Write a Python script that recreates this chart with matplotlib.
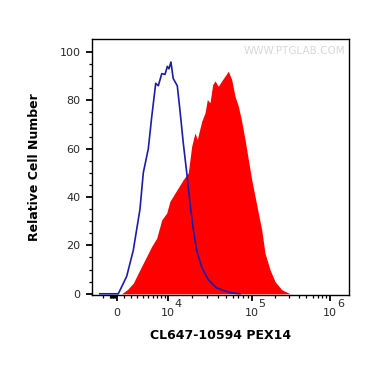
import numpy as np
import matplotlib
matplotlib.use('Agg')
from matplotlib import pyplot as plt

plt.rcParams['font.family'] = ['DejaVu Sans']

# Isotype control (blue outline): fluorescence intensity vs relative cell number
ctrl_x = [-2500, -1000, 181, 1371, 2360, 3450, 4033, 4995, 5697, 6607, 7247, 8152, 9085,
          9788, 10300, 10914, 11660, 13113, 14138, 15524, 17131, 18744, 20545, 22550,
          25884, 30970, 38880, 55720, 72950]
ctrl_y = [0, 0, 0, 7.2, 18, 35, 50, 60, 73, 87, 86, 91, 90.7,
          94, 93, 95.8, 89, 86, 76, 62.5, 50, 37.6, 26.5, 18,
          11, 5.8, 2.4, 0.5, 0]

# CL647-10594 PEX14 stained sample (red filled)
pex_x = [656, 1500, 2360, 3450, 4677, 5697, 6843, 8152, 9600, 10586, 12304, 13474, 15524,
         17872, 19652, 21534, 22944, 25884, 28333, 30171, 32447, 34916, 37187, 40613,
         44574, 48697, 53270, 58321, 63807, 69726, 76415, 83536, 91332, 100000, 110200,
         121460, 134200, 147900, 171300, 198400, 241800, 308600, 400000]
pex_y = [0, 1.8, 4.4, 10, 15.5, 19.6, 23, 30.6, 33.4, 38.2, 41.7, 43.8, 47.2,
         50, 61, 66.5, 63.8, 71.3, 74.8, 80.3, 79, 86.5, 88, 85.8,
         88, 90, 92, 88.6, 81.7, 77.6, 71.3, 63.8, 55.5, 47.2, 40.3,
         33.4, 26.5, 16.8, 10, 5.1, 1.7, 0, 0]

y_ticks = [0, 20, 40, 60, 80, 100]
x_ticks = [0, 1e4, 1e5, 1e6]
x_tick_base = ['0', '10', '10', '10']
x_tick_exp = ['', '4', '5', '6']

# Logicle-like display scale (biexponential axis as in flow cytometry software)
C = 4812.0
anchor_data = np.array([-1e9, -1e4, 0, 1e4, 1e5, 1e6, 1e7, 1e12])
anchor_s = np.arcsinh(anchor_data / C)
anchor_pos = np.array([0, 66, 117, 168, 251.7, 330, 408.3, 0])
anchor_pos[0] = 66 - (anchor_s[1] - anchor_s[0]) / (anchor_s[2] - anchor_s[1]) * 51
anchor_pos[-1] = 408.3 + (anchor_s[-1] - anchor_s[-2]) / (anchor_s[-2] - anchor_s[-3]) * 78.3


def forward(x):
    return np.interp(np.arcsinh(np.asarray(x, dtype=float) / C), anchor_s, anchor_pos)


def inverse(p):
    return C * np.sinh(np.interp(np.asarray(p, dtype=float), anchor_pos, anchor_s))


fig = plt.figure(figsize=(3.73, 3.65), dpi=100)
ax = fig.add_axes([0.2466, 0.1918, 0.6899, 0.7005])
ax.set_xscale('function', functions=(forward, inverse))

ax.fill_between(pex_x, pex_y, 0, color='#ff0000', linewidth=0, zorder=2)
ax.plot(ctrl_x, ctrl_y, color='#1c1ca8', linewidth=1.2, zorder=3)

ax.set_xlim(float(inverse(92.0)), float(inverse(349.3)))
ax.set_ylim(-0.5, 105.2)

# ticks
ax.set_yticks(y_ticks)
ax.set_yticks(np.arange(0, 105, 5), minor=True)
ax.set_xticks(x_ticks)
ax.set_xticklabels(x_tick_base)
minor_x = [-2000, -1000] + list(range(-900, 0, 100))
for dec in [1e3, 1e4, 1e5]:
    minor_x += [k * dec for k in range(2 if dec > 1e3 else 1, 10)]
ax.set_xticks(minor_x, minor=True)

ax.tick_params(axis='both', which='major', direction='out', length=4.5, width=1.3,
               labelsize=8, colors='black', labelcolor='#2a2a2a')
ax.tick_params(axis='y', which='major', pad=3.8)
ax.tick_params(axis='x', which='major', pad=5)
ax.tick_params(axis='both', which='minor', direction='out', length=2.5, width=0.9)
ax.tick_params(top=False, right=False, which='both')

# exponents of the decade labels
for xt, ex in zip(x_ticks, x_tick_exp):
    if ex:
        ax.annotate(ex, xy=(xt, 0), xycoords=('data', 'axes fraction'),
                    xytext=(5.0, -2.6), textcoords='offset points',
                    ha='left', va='top', fontsize=8, color='#2a2a2a')

for s in ax.spines.values():
    s.set_linewidth(1.0)
    s.set_color('black')

ax.set_ylabel('Relative Cell Number', fontsize=9, fontweight='bold', labelpad=13)
ax.set_xlabel('CL647-10594 PEX14', fontsize=9, fontweight='bold', labelpad=8)

ax.text(0.985, 0.975, 'WWW.PTGLAB.COM', transform=ax.transAxes, ha='right', va='top',
        fontsize=7.5, color='#d8d8d8')

plt.savefig('out.png', dpi=100)
plt.close()
